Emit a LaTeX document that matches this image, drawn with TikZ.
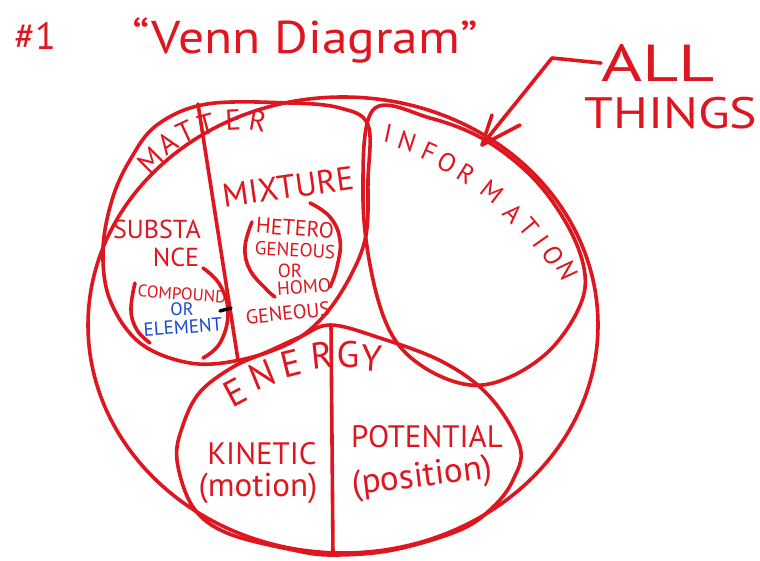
\documentclass[tikz,border=0pt]{standalone}
\usepackage{fontspec}
\setmainfont{PT Sans}
\definecolor{ink}{RGB}{222,22,32}
\definecolor{blueink}{RGB}{25,70,210}
\newcommand{\fs}[1]{\fontsize{#1}{#1}\selectfont}
\begin{document}
\begin{tikzpicture}[x=1pt,y=-1pt,line join=round,line cap=round,
  pen/.style={draw=ink,line width=3.6pt},
  lbl/.style={text=ink,inner sep=0pt,align=center},
  blu/.style={text=blueink,inner sep=0pt,align=center}]
\fill[white] (0,0) rectangle (760,560);
\path[use as bounding box] (0,0) rectangle (760,560);

% outer circle: ALL THINGS
\draw[pen] (343,325) ellipse [x radius=255pt,y radius=228pt];
% matter
\draw[pen] plot[smooth cycle,tension=0.6] coordinates {(103,250) (112,200) (130,160) (157,125) (207,104) (290,103) (340,108) (368,125) (368,180) (366,235) (350,277) (323,317) (290,343) (240,360) (190,363) (140,343) (110,300)};
\draw[pen] (198,104) -- (238,360);
% substance inner curve
\draw[pen] plot[smooth,tension=0.7] coordinates {(135,283) (131,310) (137,330) (150,343)};
\draw[pen] plot[smooth,tension=0.7] coordinates {(203,268) (220,285) (228,313) (220,343) (203,358)};
\draw[black,line width=3.4pt] (220,311) -- (231,308);
% mixture inner curve
\draw[pen] plot[smooth,tension=0.7] coordinates {(252,222) (245,247) (250,270) (267,290) (275,297)};
\draw[pen] plot[smooth,tension=0.7] coordinates {(310,203) (330,217) (340,240) (337,267) (330,287)};
% information
\draw[pen] plot[smooth cycle,tension=0.6] coordinates {(373,110) (430,118) (485,140) (535,180) (570,230) (585,275) (578,310) (550,350) (510,377) (470,385) (425,368) (392,335) (372,275) (363,195)};
% energy
\draw[pen] plot[smooth cycle,tension=0.6] coordinates {(177,460) (183,425) (200,392) (233,367) (267,352) (300,337) (330,325) (377,337) (443,362) (490,397) (520,447) (513,480) (493,507) (460,530) (393,550) (333,555) (293,550) (227,533) (193,507)};
\draw[pen] (331,325) -- (333,555);

% title
\node[lbl,font=\fs{38}] (num) at (35,36) {\#1};
\node[lbl,font=\fs{46}] (title) at (305,40) {\scalebox{1.12}[1]{“Venn Diagram”}};
\node[lbl,font=\fs{52}] (all) at (658,63) {\scalebox{1.35}[1]{ALL}};
\node[lbl,font=\fs{44}] (things) at (671,113) {\scalebox{1.18}[1]{THINGS}};
\coordinate (bend) at (552,58);
\coordinate (tip) at (482,145);
\coordinate (barbA) at (492,115);
\coordinate (barbB) at (520,125);
\draw[pen] (all.west) -- (bend) -- (tip);
\draw[pen] (barbA) -- (tip) -- (barbB);

% MATTER
\node[lbl,font=\fs{29},rotate=45] (m1) at (150,160) {M};
\node[lbl,font=\fs{29},rotate=35] (m2) at (168,143) {A};
\node[lbl,font=\fs{29},rotate=25] (m3) at (186,132) {T};
\node[lbl,font=\fs{29},rotate=15] (m4) at (206,125) {T};
\node[lbl,font=\fs{29},rotate=3] (m5) at (233,120) {E};
\node[lbl,font=\fs{29},rotate=-10] (m6) at (258,121) {R};

% substance
\node[lbl,font=\fs{26}] (subsa) at (157,229) {SUBSTA};
\node[lbl,font=\fs{26}] (subsb) at (176,257) {NCE};
\node[lbl,font=\fs{17},rotate=-4] (comp) at (182,294) {COMPOUND};
\node[blu,font=\fs{18}] (or1) at (182,309) {OR};
\node[blu,font=\fs{19},rotate=4] (elem) at (183,327) {ELEMENT};

% mixture
\node[lbl,font=\fs{33},rotate=8] (mix) at (288,187) {MIXTURE};
\node[lbl,font=\fs{22},rotate=-4] (het) at (295,228) {HETERO};
\node[lbl,font=\fs{19},rotate=-3] (gen1) at (295,250) {GENEOUS};
\node[lbl,font=\fs{19}] (or2) at (290,271) {OR};
\node[lbl,font=\fs{19},rotate=4] (homo) at (304,287) {HOMO};
\node[lbl,font=\fs{20},rotate=6] (gen2) at (288,313) {GENEOUS};

% INFORMATION
\node[lbl,font=\fs{26},rotate=-12] (i1) at (388,133) {I};
\node[lbl,font=\fs{26},rotate=-18] (i2) at (407,142) {N};
\node[lbl,font=\fs{26},rotate=-24] (i3) at (429,152) {F};
\node[lbl,font=\fs{26},rotate=-28] (i4) at (447,163) {O};
\node[lbl,font=\fs{26},rotate=-32] (i5) at (466,174) {R};
\node[lbl,font=\fs{26},rotate=-38] (i6) at (492,192) {M};
\node[lbl,font=\fs{26},rotate=-45] (i7) at (513,213) {A};
\node[lbl,font=\fs{26},rotate=-50] (i8) at (529,227) {T};
\node[lbl,font=\fs{26},rotate=-55] (i9) at (541,241) {I};
\node[lbl,font=\fs{26},rotate=-60] (i10) at (553,256) {O};
\node[lbl,font=\fs{26},rotate=-65] (i11) at (567,271) {N};

% ENERGY
\node[lbl,font=\fs{37},rotate=28] (e1) at (235,392) {E};
\node[lbl,font=\fs{37},rotate=22] (e2) at (262,375) {N};
\node[lbl,font=\fs{37},rotate=14] (e3) at (291,364) {E};
\node[lbl,font=\fs{37},rotate=6] (e4) at (322,355) {R};
\node[lbl,font=\fs{37},rotate=0] (e5) at (348,355) {G};
\node[lbl,font=\fs{37},rotate=-4] (e6) at (372,358) {Y};

% kinetic / potential
\node[lbl,font=\fs{31}] (kin) at (262,454) {KINETIC};
\node[lbl,font=\fs{33}] (mot) at (258,488) {(motion)};
\node[lbl,font=\fs{31}] (pot) at (427,437) {POTENTIAL};
\node[lbl,font=\fs{35},rotate=7] (pos) at (422,478) {(position)};
\end{tikzpicture}
\end{document}
